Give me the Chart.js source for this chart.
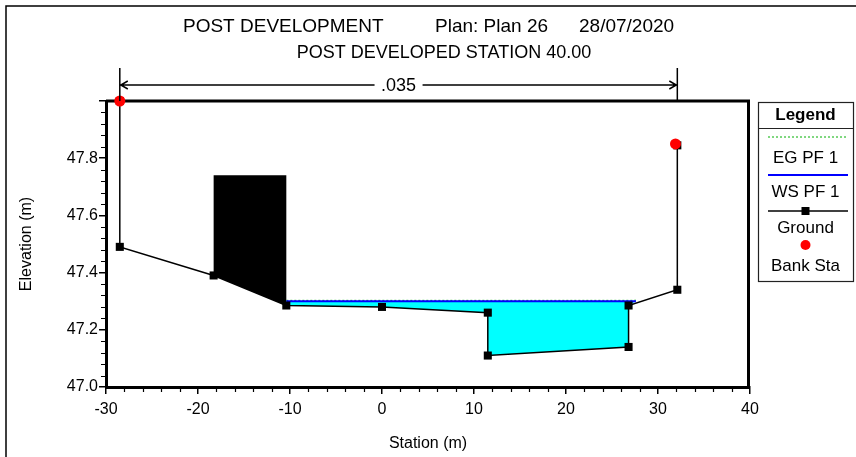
<!DOCTYPE html>
<html>
<head>
<meta charset="utf-8">
<script src="https://cdn.jsdelivr.net/npm/chart.js@4.4.1/dist/chart.umd.min.js"></script>
<style>
  html, body { margin: 0; padding: 0; background: #fff; }
  canvas { display: block; }
</style>
</head>
<body>
<canvas id="xs" width="856" height="457"></canvas>
<script>
// cross section data (station m, elevation m)
const groundX = [-28.5, -28.5, -18.3, -10.4, 0, 11.5, 11.5, 26.8, 26.8, 32.1, 32.1];
const groundY = [48.0, 47.49, 47.39, 47.285, 47.28, 47.26, 47.11, 47.14, 47.285, 47.34, 47.845];
const bankX = [-28.5, 31.9];
const bankY = [48.0, 47.85];
const wsElev = 47.30;
const egElev = 47.303;
const wetX = [-10.4, 27.6];
const obsX = [-18.3, -10.4];
const obsTop = 47.74;
const manningN = '.035';
const xTicks = { min: -30, max: 40, step: 10, minor: 2 };
const yTicks = { min: 47, max: 48, step: 0.2, minor: 0.04 };
const legendLabels = ['EG PF 1', 'WS PF 1', 'Ground', 'Bank Sta'];

const FONT = 'Arial, "Liberation Sans", sans-serif';

const pts = (xs, ys) => xs.map((x, i) => ({ x, y: ys[i] }));
const ground = pts(groundX, groundY);
const bank = pts(bankX, bankY);
const wetGround = ground.filter(p => p.x >= wetX[0] && p.x <= wetX[1]);
const waterPoly = [{ x: wetX[0], y: wsElev }, { x: wetX[1], y: wsElev }, ...wetGround.slice().reverse()];
const obsGround = ground.filter(p => p.x >= obsX[0] && p.x <= obsX[1]);
const obsPoly = [{ x: obsX[0], y: obsTop }, { x: obsX[1], y: obsTop }, ...obsGround.slice().reverse()];

const decor = {
  id: 'decor',
  beforeDatasetsDraw(chart) {
    const { ctx, chartArea: a } = chart;
    ctx.save();
    ctx.strokeStyle = '#000';
    ctx.lineWidth = 3;
    ctx.beginPath();
    ctx.moveTo(a.left, a.top);
    ctx.lineTo(a.right - 1.5, a.top);
    ctx.lineTo(a.right - 1.5, a.bottom);
    ctx.stroke();
    ctx.restore();
  },
  afterDraw(chart) {
    const { ctx, chartArea: a, scales } = chart;
    const sx = scales.x, sy = scales.y;
    ctx.save();
    ctx.strokeStyle = '#000';
    ctx.fillStyle = '#000';

    // minor ticks
    ctx.lineWidth = 1.2;
    ctx.beginPath();
    for (let v = xTicks.min; v <= xTicks.max + 1e-9; v += xTicks.minor) {
      if (Math.abs(v / xTicks.step - Math.round(v / xTicks.step)) < 1e-6) continue;
      const px = Math.round(sx.getPixelForValue(v)) + 0.5;
      ctx.moveTo(px, a.bottom); ctx.lineTo(px, a.bottom + 5);
    }
    for (let v = yTicks.min; v <= yTicks.max + 1e-9; v += yTicks.minor) {
      const k = (v - yTicks.min) / yTicks.step;
      if (Math.abs(k - Math.round(k)) < 1e-6) continue;
      const py = Math.round(sy.getPixelForValue(v)) + 0.5;
      ctx.moveTo(a.left, py); ctx.lineTo(a.left - 5, py);
    }
    ctx.stroke();

    // outer frame
    ctx.lineWidth = 1.5;
    ctx.beginPath();
    ctx.moveTo(6, chart.height); ctx.lineTo(6, 6); ctx.lineTo(chart.width, 6);
    ctx.stroke();

    // titles
    ctx.textBaseline = 'middle';
    ctx.textAlign = 'left';
    ctx.font = '19px ' + FONT;
    ctx.fillText('POST DEVELOPMENT', 183, 27);
    ctx.fillText('Plan: Plan 26', 435, 27);
    ctx.fillText('28/07/2020', 579, 27);
    ctx.textAlign = 'center';
    ctx.font = '18px ' + FONT;
    ctx.fillText('POST DEVELOPED STATION 40.00', 444, 53);

    // manning n annotation
    const x1 = sx.getPixelForValue(groundX[0]);
    const x2 = sx.getPixelForValue(groundX[groundX.length - 1]);
    const ay = 85, mid = (x1 + x2) / 2;
    ctx.lineWidth = 1.5;
    ctx.beginPath();
    ctx.moveTo(x1, 68); ctx.lineTo(x1, a.top);
    ctx.moveTo(x2, 68); ctx.lineTo(x2, a.top);
    ctx.moveTo(x1, ay); ctx.lineTo(mid - 24, ay);
    ctx.moveTo(mid + 24, ay); ctx.lineTo(x2, ay);
    ctx.moveTo(x1 + 8, ay - 4); ctx.lineTo(x1 + 1, ay); ctx.lineTo(x1 + 8, ay + 4);
    ctx.moveTo(x2 - 8, ay - 4); ctx.lineTo(x2 - 1, ay); ctx.lineTo(x2 - 8, ay + 4);
    ctx.stroke();
    ctx.font = '18px ' + FONT;
    ctx.fillText(manningN, mid, ay + 1);

    // legend box
    const L = 758, T = 102, R = 853, B = 281, cx = (L + R) / 2;
    ctx.lineWidth = 1.2;
    ctx.strokeStyle = '#222';
    ctx.strokeRect(L + 0.5, T + 0.5, R - L, B - T);
    ctx.beginPath(); ctx.moveTo(L, 128.5); ctx.lineTo(R, 128.5); ctx.stroke();
    ctx.font = 'bold 17px ' + FONT;
    ctx.fillText('Legend', cx, 115);

    const ds = chart.data.datasets;
    const byLabel = l => ds.find(d => d.label === l);
    const rows = [
      { sym: 137, text: 158 },
      { sym: 175, text: 192 },
      { sym: 211, text: 228 },
      { sym: 245, text: 266 }
    ];
    ctx.font = '17px ' + FONT;
    legendLabels.forEach((lab, i) => {
      const d = byLabel(lab), r = rows[i];
      if (d.showLine === false) {
        ctx.fillStyle = d.pointBackgroundColor;
        ctx.beginPath(); ctx.arc(cx, r.sym, 5, 0, Math.PI * 2); ctx.fill();
      } else {
        ctx.strokeStyle = d.borderColor;
        ctx.lineWidth = d.borderWidth;
        ctx.setLineDash(d.borderDash || []);
        ctx.beginPath(); ctx.moveTo(L + 10, r.sym); ctx.lineTo(R - 5, r.sym); ctx.stroke();
        ctx.setLineDash([]);
        if (d.pointRadius > 0) {
          ctx.fillStyle = d.pointBackgroundColor;
          ctx.fillRect(cx - 4, r.sym - 4, 8, 8);
        }
      }
      ctx.fillStyle = '#000';
      ctx.fillText(lab, cx, r.text);
    });
    ctx.restore();
  }
};

const tickFont = { family: FONT, size: 16 };

new Chart(document.getElementById('xs'), {
  type: 'line',
  data: {
    datasets: [
      { label: 'Water', data: waterPoly, fill: 'shape', backgroundColor: '#00ffff',
        borderColor: 'rgba(0,0,0,0)', borderWidth: 0, pointRadius: 0, order: 5 },
      { label: 'Obstruction', data: obsPoly, fill: 'shape', backgroundColor: '#000000',
        borderColor: 'rgba(0,0,0,0)', borderWidth: 0, pointRadius: 0, order: 4 },
      { label: 'EG PF 1', data: [{ x: wetX[0], y: egElev }, { x: wetX[1], y: egElev }],
        borderColor: '#00b000', borderWidth: 1, borderDash: [2, 2], pointRadius: 0, fill: false, order: 3 },
      { label: 'WS PF 1', data: [{ x: wetX[0], y: wsElev }, { x: wetX[1], y: wsElev }],
        borderColor: '#0000ff', borderWidth: 2, pointRadius: 0, fill: false, order: 2 },
      { label: 'Ground', data: ground, borderColor: '#000', borderWidth: 1.5, fill: false,
        pointStyle: 'rect', pointRadius: 5.7, pointBackgroundColor: '#000', pointBorderWidth: 0,
        clip: false, order: 1 },
      { label: 'Bank Sta', data: bank, showLine: false, pointRadius: 5.5,
        pointBackgroundColor: '#ff0000', pointBorderWidth: 0, clip: false, order: 0 }
    ]
  },
  options: {
    responsive: false,
    animation: false,
    events: [],
    layout: { padding: { left: 0, right: 106, top: 101, bottom: 0 } },
    plugins: { legend: { display: false }, tooltip: { enabled: false } },
    scales: {
      x: {
        type: 'linear', min: xTicks.min, max: xTicks.max,
        ticks: { stepSize: xTicks.step, color: '#000', font: tickFont, padding: 6, maxRotation: 0, autoSkip: false },
        grid: { drawOnChartArea: false, color: '#000', lineWidth: 1.5, tickLength: 7 },
        border: { color: '#000', width: 3 },
        title: { display: true, text: 'Station (m)', color: '#000', font: tickFont, padding: { top: 0, bottom: 4 } },
        afterFit: s => { s.height = 70; }
      },
      y: {
        type: 'linear', min: yTicks.min, max: yTicks.max,
        ticks: { stepSize: yTicks.step, color: '#000', font: tickFont, padding: 1,
          callback: v => (v >= yTicks.max - 1e-6 ? '' : v.toFixed(1)) },
        grid: { drawOnChartArea: false, color: '#000', lineWidth: 1.5, tickLength: 7 },
        border: { color: '#000', width: 3 },
        title: { display: true, text: 'Elevation (m)', color: '#000', font: tickFont, padding: { top: 17, bottom: 0 } },
        afterFit: s => { s.width = 106; }
      }
    }
  },
  plugins: [decor]
});
</script>
</body>
</html>
